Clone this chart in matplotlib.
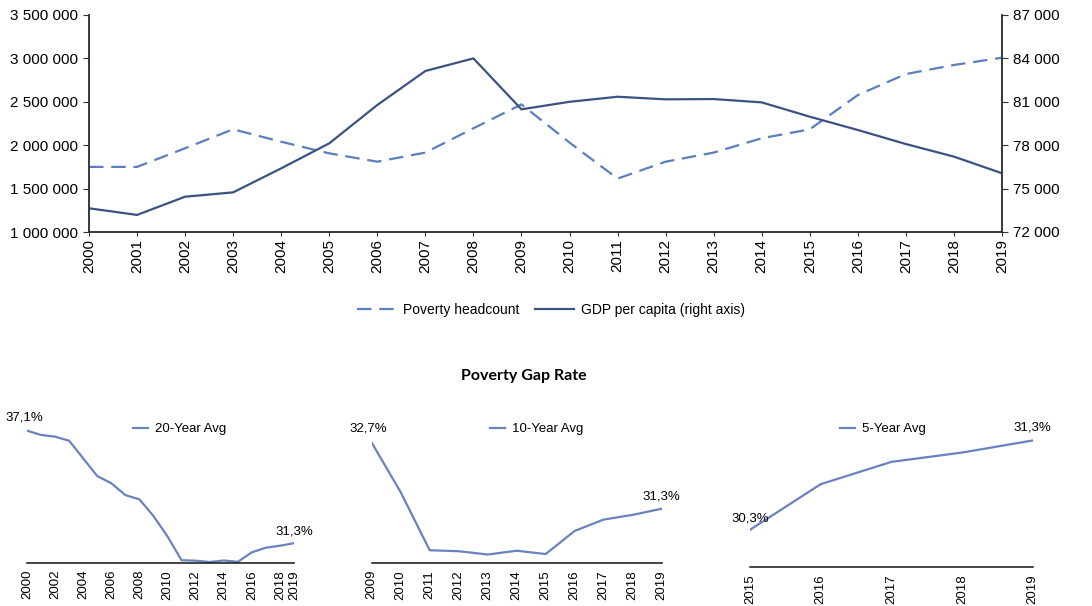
import matplotlib
matplotlib.use("Agg")
import matplotlib.pyplot as plt
from matplotlib.ticker import FuncFormatter

plt.rcParams['font.family'] = ['Liberation Sans', 'DejaVu Sans']

# Data
years = list(range(2000, 2020))
poverty_headcount = [1750000, 1750000, 1965000, 2183000, 2040000, 1906000, 1810000, 1915000,
                     2195000, 2470000, 2030000, 1615000, 1810000, 1915000, 2080000, 2183000,
                     2578000, 2820000, 2924000, 3008000]
gdp_per_capita = [73640, 73180, 74440, 74740, 76400, 78130, 80780, 83130, 84000, 80480,
                  81000, 81350, 81170, 81190, 80960, 79970, 79050, 78080, 77210, 76060]
gap_rate = [37.1, 36.88, 36.79, 36.58, 35.67, 34.76, 34.39, 33.78, 33.56, 32.7,
            31.65, 30.42, 30.40, 30.33, 30.41, 30.34, 30.83, 31.07, 31.17, 31.3]

windows = [("20-Year Avg", 2000, [2000, 2002, 2004, 2006, 2008, 2010, 2012, 2014, 2016, 2018, 2019]),
           ("10-Year Avg", 2009, list(range(2009, 2020))),
           ("5-Year Avg", 2015, list(range(2015, 2020)))]

c_dash = '#5b7fbd'
c_solid = '#3c5283'
c_gap = '#6a82be'
c_axis = '#333333'

fig = plt.figure(figsize=(10.92, 6.06), dpi=100)
W, H = 1092, 606

def px_axes(left, right, top, bottom):
    return fig.add_axes([left / W, (H - bottom) / H, (right - left) / W, (bottom - top) / H])

# ---- top chart
ax = px_axes(89, 1002, 15, 232)
ax2 = ax.twinx()
l1, = ax.plot(years, poverty_headcount, color=c_dash, lw=1.6, dashes=(6.5, 3.5),
              label='Poverty headcount')
l2, = ax2.plot(years, gdp_per_capita, color=c_solid, lw=1.6, label='GDP per capita (right axis)')
ax.set_xlim(2000, 2019)
ax.set_ylim(1000000, 3500000)
ax2.set_ylim(72000, 87000)
ax.set_yticks(range(1000000, 3500001, 500000))
ax2.set_yticks(range(72000, 87001, 3000))
fmt = FuncFormatter(lambda v, p: f"{v:,.0f}".replace(",", " "))
ax.yaxis.set_major_formatter(fmt)
ax2.yaxis.set_major_formatter(fmt)
ax.set_xticks(years)
ax.tick_params(axis='x', rotation=90, labelsize=11, length=3, pad=2, color=c_axis)
ax.tick_params(axis='y', labelsize=11, length=4, pad=4, color=c_axis)
ax2.tick_params(axis='y', labelsize=11, length=4, pad=4, color=c_axis)
for a in (ax, ax2):
    a.spines['top'].set_visible(False)
    for s in ('left', 'right', 'bottom'):
        a.spines[s].set_color(c_axis)
        a.spines[s].set_linewidth(1.1)

fig.legend(handles=[l1, l2], loc='center', bbox_to_anchor=(551 / W, 1 - 310 / H), ncol=2,
           frameon=False, fontsize=10, handlelength=2.8, handletextpad=0.5, columnspacing=1.1)

fig.text(524 / W, 1 - 376 / H, 'Poverty Gap Rate', ha='center', va='center',
         fontsize=11.5, fontweight='bold', family=['Lato', 'DejaVu Sans'])

# ---- bottom charts
boxes = [(27, 294, 420, 563, (30.28, 37.65), 133, [(-3, 13), (0, 12)]),
         (371.7, 661.7, 420, 563, (30.15, 33.18), 490, [(-3, 14), (0, 12)]),
         (750, 1032.7, 420, 567, (29.94, 31.52), 840, [(0, 11), (0, 13)])]

for (name, start, ticks), (l, r, t, b, ylim, legx, offs) in zip(windows, boxes):
    a = px_axes(l, r, t, b)
    i0 = years.index(start)
    xs = years[i0:]
    ys = gap_rate[i0:]
    a.plot(xs, ys, color=c_gap, lw=1.6, label=name)
    a.set_xlim(xs[0], xs[-1])
    a.set_ylim(*ylim)
    a.set_xticks(ticks)
    a.set_yticks([])
    a.tick_params(axis='x', rotation=90, labelsize=9.5, length=0, pad=5)
    for s in ('left', 'right', 'top'):
        a.spines[s].set_visible(False)
    a.spines['bottom'].set_color('#111111')
    a.spines['bottom'].set_linewidth(1.1)
    for (x, y), off in zip([(xs[0], ys[0]), (xs[-1], ys[-1])], offs):
        a.annotate(f"{y:.1f}%".replace('.', ','), (x, y), xytext=off, textcoords='offset pixels',
                   ha='center', va='center', fontsize=9.5, annotation_clip=False)
    a.legend(loc='center left', bbox_to_anchor=(legx / W, 1 - 429 / H), bbox_transform=fig.transFigure,
             frameon=False, fontsize=9.5, handlelength=1.15, handletextpad=0.5, borderpad=0,
             borderaxespad=0)

fig.savefig('out.png', dpi=100)
